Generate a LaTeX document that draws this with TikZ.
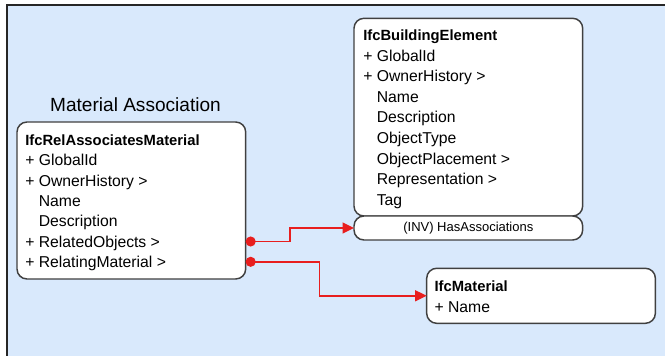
\documentclass[tikz,border=0pt]{standalone}
\usepackage{fontspec}
\setmainfont{Liberation Sans}
\usetikzlibrary{arrows.meta}
\definecolor{panel}{RGB}{217,233,252}
\definecolor{link}{RGB}{232,30,30}
\newcommand{\attrindent}{\phantom{+ }}
\tikzset{
    classbox/.style={draw=black!75,fill=white,rounded corners=7.5pt,line width=1.1pt,
        inner sep=0pt,outer sep=0pt,minimum width=171.5pt,anchor=north west},
    attr/.style={anchor=west,inner sep=0pt,text height=8.3pt,text depth=0pt,
        font=\fontsize{11.8}{14}\selectfont},
    head/.style={attr,font=\fontsize{11.1}{14}\selectfont\bfseries},
    title/.style={inner sep=0pt,text height=10.2pt,text depth=0pt,
        font=\fontsize{14.3}{17}\selectfont},
    assoc/.style={draw=link,line width=1.1pt,
        {Circle[length=7.5pt]}-{Triangle[length=8.6pt,width=8.2pt]}}
}

\begin{document}
\begin{tikzpicture}[x=0.75pt,y=-0.75pt]
                        \clip (0,0) rectangle (665,356);
                        \draw[fill=panel,draw=black!85,line width=1.1pt] (7,5) rectangle (690,380);
                        % material association
                            \node[title] (title) at (135.5,105) {Material Association};
                            \node[classbox,minimum height=117.75pt] (rel) at (17,122) {};
                            \node[head] (rel-0) at (25,140) {IfcRelAssociatesMaterial};
                            \foreach \txt [count=\i] in {+ GlobalId, + OwnerHistory >, \attrindent Name,
                                \attrindent Description, + RelatedObjects >, + RelatingMaterial >}
                                \node[attr] (rel-\i) at (25,140+20.3*\i) {\txt};
                        % building element
                            \node[classbox,minimum height=148.3pt] (elem) at (354,18.3) {};
                            \node[classbox,minimum height=18pt,font=\fontsize{9.75}{12}\selectfont] (inv) at (354,216) {(INV) HasAssociations};
                            \node[head] (elem-0) at (363,35) {IfcBuildingElement};
                            \foreach \txt [count=\i] in {+ GlobalId, + OwnerHistory >, \attrindent Name,
                                \attrindent Description, \attrindent ObjectType, \attrindent ObjectPlacement >,
                                \attrindent Representation >, \attrindent Tag}
                                \node[attr] (elem-\i) at (363,35+20.6*\i) {\txt};
                        % material
                            \node[classbox,minimum height=41.25pt] (mat) at (426.7,268.3) {};
                            \node[head] (mat-0) at (434.3,286) {IfcMaterial};
                            \node[attr] (mat-1) at (434.3,306.7) {+ Name};
                        %edges
                        \draw[assoc] (rel-5.west -| rel.east) -- ++(44.3,0) |- (inv.west);
                        \draw[assoc] (rel-6.west -| rel.east) -- ++(73.6,0) |- (mat.west);
                        \end{tikzpicture}
\end{document}
